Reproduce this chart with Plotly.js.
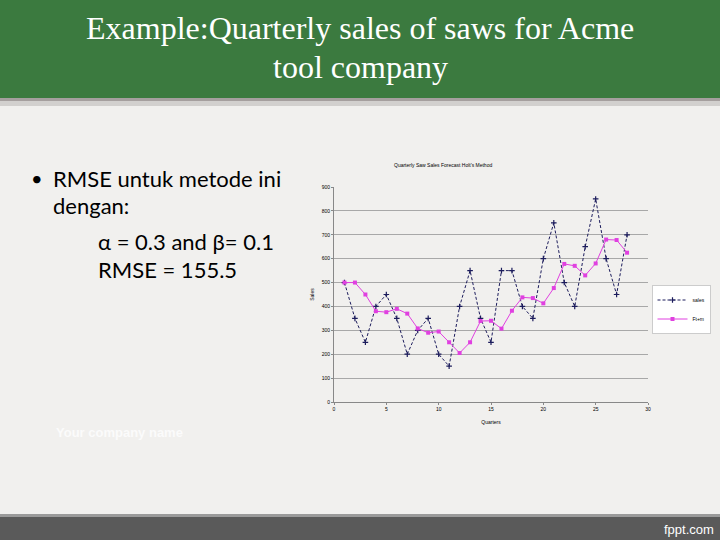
<!DOCTYPE html>
<html>
<head>
<meta charset="utf-8">
<script src="https://cdn.plot.ly/plotly-3.0.1.min.js"></script>
<style>
html,body{margin:0;padding:0;width:720px;height:540px;overflow:hidden;background:#f0efed;}
#chart{width:720px;height:540px;}
</style>
</head>
<body>
<div id="chart"></div>
<script>
const quarters = [1,2,3,4,5,6,7,8,9,10,11,12,13,14,15,16,17,18,19,20,21,22,23,24,25,26,27,28];
const sales = [500,350,250,400,450,350,200,300,350,200,150,400,550,350,250,550,550,400,350,600,750,500,400,650,850,600,450,700];
const holtForecast = [500,500,450,380,376,390,370,308,290,295,250,205,250,339,340,307,382,438,435,413,477,578,570,530,580,680,678,625];
const xTicks = [0,5,10,15,20,25,30];
const yTicks = [0,100,200,300,400,500,600,700,800,900];

const traces = [
  {x: quarters, y: sales, name: 'sales', type: 'scatter', mode: 'lines+markers',
   line: {color: '#1c1c5c', width: 1, dash: '3px,2px'},
   marker: {symbol: 'cross-thin', size: 4, line: {color: '#1c1c5c', width: 1.2}, color: '#1c1c5c'}},
  {x: quarters, y: holtForecast, name: 'Ft+m', type: 'scatter', mode: 'lines+markers',
   line: {color: '#e040e0', width: 1},
   marker: {symbol: 'square', size: 4, color: '#e040e0'}}
];

const W = 720, H = 540;
const px = v => v / W, py = v => 1 - v / H;
const mid = {xref: 'paper', yref: 'paper', yanchor: 'middle', showarrow: false};
const bodyFont = {family: 'Lato, Open Sans', size: 22, color: '#000'};

const layout = {
  width: W, height: H,
  margin: {l: 0, r: 0, t: 0, b: 0},
  paper_bgcolor: 'rgba(0,0,0,0)',
  plot_bgcolor: '#ffffff',
  showlegend: true,
  legend: {x: px(652), y: py(285), xanchor: 'left', yanchor: 'top',
    bgcolor: '#ffffff', bordercolor: '#999999', borderwidth: 0.5,
    font: {family: 'Liberation Sans, Arial', size: 5, color: '#000'},
    itemwidth: 30, tracegroupgap: 0},
  xaxis: {domain: [px(334), px(648)], range: [0, 30], tickvals: xTicks,
    showgrid: false, zeroline: false, showline: true, linecolor: '#888', linewidth: 1,
    ticks: 'outside', ticklen: 2, tickcolor: '#888',
    tickfont: {family: 'Liberation Sans, Arial', size: 5, color: '#000'},
    title: {text: 'Quarters', font: {family: 'Liberation Sans, Arial', size: 5, color: '#000'}, standoff: 9},
    fixedrange: true},
  yaxis: {domain: [py(402), py(187)], range: [0, 900], tickvals: yTicks,
    showgrid: true, gridcolor: '#a8a8a8', gridwidth: 1, zeroline: false,
    showline: true, linecolor: '#888', linewidth: 1,
    ticks: 'outside', ticklen: 2, tickcolor: '#888',
    tickfont: {family: 'Liberation Sans, Arial', size: 5, color: '#000'},
    title: {text: 'Sales', font: {family: 'Liberation Sans, Arial', size: 5, color: '#000'}, standoff: 6},
    fixedrange: true},
  shapes: [
    {type: 'rect', xref: 'paper', yref: 'paper', x0: 0, x1: 1, y0: py(540), y1: py(0),
     fillcolor: '#f1f0ee', line: {width: 0}, layer: 'below'},
    {type: 'rect', xref: 'paper', yref: 'paper', x0: 0, x1: 1, y0: py(106), y1: py(96),
     fillcolor: 'rgba(120,110,110,0.25)', line: {width: 0}, layer: 'below'},
    {type: 'rect', xref: 'paper', yref: 'paper', x0: 0, x1: 1, y0: py(101), y1: py(96),
     fillcolor: 'rgba(110,100,100,0.45)', line: {width: 0}, layer: 'below'},
    {type: 'rect', xref: 'paper', yref: 'paper', x0: 0, x1: 1, y0: py(98), y1: py(0),
     fillcolor: '#3b7a3f', line: {width: 0}, layer: 'below'},
    {type: 'rect', xref: 'paper', yref: 'paper', x0: 0, x1: 1, y0: py(540), y1: py(515),
     fillcolor: '#5a5a5a', line: {width: 0}, layer: 'below'},
    {type: 'rect', xref: 'paper', yref: 'paper', x0: 0, x1: 1, y0: py(517), y1: py(514),
     fillcolor: '#9a9a9a', line: {width: 0}, layer: 'below'}
  ],
  annotations: [
    Object.assign({text: 'Example:Quarterly sales of saws for Acme', x: px(360), y: py(28),
     font: {family: 'Liberation Serif, Times New Roman', size: 32, color: '#ffffff'}}, mid),
    Object.assign({text: 'tool company', x: px(360), y: py(67),
     font: {family: 'Liberation Serif, Times New Roman', size: 32, color: '#ffffff'}}, mid),
    Object.assign({text: 'Quarterly Saw Sales Forecast Holt\'s Method', x: px(494), y: py(165),
     font: {family: 'Liberation Sans, Arial', size: 5, color: '#000'}}, mid),
    Object.assign({text: '•', x: px(29), y: py(178), xanchor: 'left',
     font: {family: 'Lato, Open Sans', size: 20, color: '#000'}}, mid),
    Object.assign({text: 'RMSE untuk metode ini', x: px(51), y: py(178), xanchor: 'left', font: bodyFont}, mid),
    Object.assign({text: 'dengan:', x: px(51), y: py(205), xanchor: 'left', font: bodyFont}, mid),
    Object.assign({text: 'α = 0.3 and β= 0.1', x: px(96), y: py(241), xanchor: 'left', font: bodyFont}, mid),
    Object.assign({text: 'RMSE = 155.5', x: px(96), y: py(269), xanchor: 'left', font: bodyFont}, mid),
    Object.assign({text: '<b>Your company name</b>', x: px(54), y: py(432), xanchor: 'left',
     font: {family: 'Liberation Sans, Arial', size: 13, color: '#fbfbfb'}}, mid),
    Object.assign({text: 'fppt.com', x: px(716), y: py(529), xanchor: 'right',
     font: {family: 'Liberation Sans, Arial', size: 13, color: '#ffffff'}}, mid)
  ]
};

Plotly.newPlot('chart', traces, layout, {displayModeBar: false, staticPlot: true});
</script>
</body>
</html>
